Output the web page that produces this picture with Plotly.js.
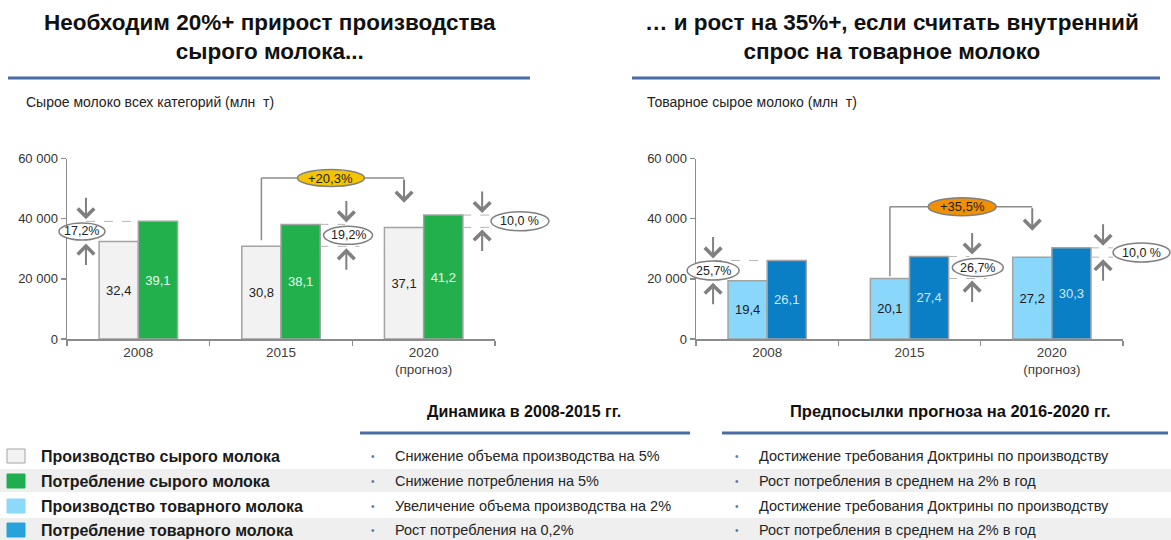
<!DOCTYPE html>
<html><head><meta charset="utf-8">
<script src="https://cdn.plot.ly/plotly-3.0.1.min.js"></script>
<style>html,body{margin:0;padding:0;background:#fff}#chart{width:1171px;height:540px}</style>
</head><body><div id="chart"></div>
<script>
// ---------- data ----------
const categories = ['2008', '2015', '2020<br>(прогноз)'];
const rawProduction = [32.4, 30.8, 37.1];
const rawConsumption = [39.1, 38.1, 41.2];
const marketProduction = [19.4, 20.1, 27.2];
const marketConsumption = [26.1, 27.4, 30.3];
const rawGapLabels = ['17,2%', '19,2%', '10,0 %'];
const marketGapLabels = ['25,7%', '26,7%', '10,0 %'];
const rawGrowthLabel = '+20,3%';
const marketGrowthLabel = '+35,5%';
const yTicks = [0, 20000, 40000, 60000];
const chartTitles = ['Необходим 20%+ прирост производства<br>сырого молока...', '… и рост на 35%+, если считать внутренний<br>спрос на товарное молоко'];
const chartSubtitles = ['Сырое молоко всех категорий (млн  т)', 'Товарное сырое молоко (млн  т)'];
const legendLabels = ['Производство сырого молока', 'Потребление сырого молока', 'Производство товарного молока', 'Потребление товарного молока'];
const dynamicsHeader = 'Динамика в 2008-2015 гг.';
const dynamicsItems = ['Снижение объема производства на 5%', 'Снижение потребления на 5%', 'Увеличение объема производства на 2%', 'Рост потребления на 0,2%'];
const forecastHeader = 'Предпосылки прогноза на 2016-2020 гг.';
const forecastItems = ['Достижение требования Доктрины по производству', 'Рост потребления в среднем на 2% в год', 'Достижение требования Доктрины по производству', 'Рост потребления в среднем на 2% в год'];

// ---------- styles ----------
const F = 'Liberation Sans, Arial, sans-serif';
const W = 1171, H = 540;
const px = x => x / W, py = y => 1 - y / H;
const AX = '#8c8c8c';
const BAR_LINE = '#a3a3a3';
const C_GRAY = '#f2f2f2', C_GREEN = '#21b04b', C_LBLUE = '#89d8fb', C_DBLUE = '#0a7fc6';
const LEGEND_COLORS = [C_GRAY, '#1fae4f', '#8cd9fa', '#27a2da'];
const RULE = '#4a6da7';

// plot areas in pixels
const LEFT = {x0: 67, x1: 495}, RIGHT = {x0: 696, x1: 1123};
const Y_TOP = 158.5, Y_BOT = 339;

function barTrace(vals, color, textColor, xa, ya, name) {
  return {
    type: 'bar', name: name, x: categories, y: vals.map(v => v * 1000), customdata: vals,
    texttemplate: '%{customdata:.1f}', textposition: 'inside', insidetextanchor: 'middle', textangle: 0,
    textfont: {family: F, size: 13, color: textColor},
    marker: {color: color, line: {color: BAR_LINE, width: 1.5}},
    xaxis: xa, yaxis: ya, showlegend: false, hoverinfo: 'skip'
  };
}

const data = [
  barTrace(rawProduction, C_GRAY, '#222', 'x', 'y', legendLabels[0]),
  barTrace(rawConsumption, C_GREEN, '#eafaf0', 'x', 'y', legendLabels[1]),
  barTrace(marketProduction, C_LBLUE, '#1a1a1a', 'x2', 'y2', legendLabels[2]),
  barTrace(marketConsumption, C_DBLUE, '#cfe9f8', 'x2', 'y2', legendLabels[3]),
  {type: 'scatter', x: [], y: [], xaxis: 'x3', yaxis: 'y3', showlegend: false, hoverinfo: 'skip'},
  {type: 'scatter', x: [], y: [], xaxis: 'x4', yaxis: 'y4', showlegend: false, hoverinfo: 'skip'}
];

const shapes = [], annotations = [];

function arrow(xa, ya, x, y, ay) {
  annotations.push({xref: xa, yref: ya, x: x, y: y, ax: 0, ay: ay, text: '', showarrow: true,
    arrowhead: 4, arrowsize: 1.6, arrowwidth: 2, arrowcolor: '#808080', standoff: 2});
}
function ellipse(xa, ya, x, y, w, h, fill, label, size) {
  shapes.push({type: 'circle', xref: xa, yref: ya, xsizemode: 'pixel', ysizemode: 'pixel',
    xanchor: x, yanchor: y, x0: -w / 2, x1: w / 2, y0: -h / 2, y1: h / 2,
    fillcolor: fill, line: {color: '#808080', width: 1.5}});
  annotations.push({xref: xa, yref: ya, x: x, y: y, text: label, showarrow: false,
    font: {family: F, size: size, color: '#222'}});
}
function dash(xa, ya, x0, x1, y) {
  shapes.push({type: 'line', xref: xa, yref: ya, x0: x0, x1: x1, y0: y, y1: y,
    line: {color: '#b5b5b5', width: 1, dash: 'dash'}});
}

function gapMarks(xa, ya, prod, cons, labels, cfg) {
  prod.forEach((p, i) => {
    const pv = p * 1000, cv = cons[i] * 1000;
    cfg.dashes[i].forEach(d => dash(xa, ya, d[1], d[2], d[0] === 'c' ? cv : pv));
    arrow(xa, ya, cfg.arrowX[i], cv, -25);
    arrow(xa, ya, cfg.arrowX[i], pv, 25);
    ellipse(xa, ya, cfg.ellX[i], (pv + cv) / 2, cfg.ellW[i], cfg.ellH[i], '#ffffff', labels[i], 12.5);
  });
}

// overlay axes x3/y3 and x4/y4 share the category scale (index units) but span a wider area, so marks are not clipped
gapMarks('x3', 'y3', rawProduction, rawConsumption, rawGapLabels, {
  arrowX: [-0.367, 1.458, 2.41], ellX: [-0.395, 1.47, 2.675], ellW: [46, 49, 58], ellH: [17, 18, 19],
  dashes: [[['c', -0.367, 0]], [['c', 1.27, 1.45], ['p', 1.27, 1.55]], [['c', 2.27, 2.47], ['p', 2.27, 2.47]]]
});
gapMarks('x4', 'y4', marketProduction, marketConsumption, marketGapLabels, {
  arrowX: [-0.38, 1.44, 2.36], ellX: [-0.38, 1.48, 2.63], ellW: [52, 51, 57], ellH: [19, 18, 19],
  dashes: [[['c', -0.38, 0]], [['c', 1.27, 1.42], ['p', 1.27, 1.54]], [['c', 2.27, 2.43], ['p', 2.27, 2.43]]]
});

function growth(xa, ya, startY, level, headY, ellX, label, fill, w, h) {
  const xs = 0.8625, xe = 1.8625;
  shapes.push({type: 'line', xref: xa, yref: ya, x0: xs, x1: xs, y0: startY, y1: level, line: {color: '#8c8c8c', width: 1.5}});
  shapes.push({type: 'line', xref: xa, yref: ya, x0: xs, x1: xe, y0: level, y1: level, line: {color: '#8c8c8c', width: 1.5}});
  annotations.push({xref: xa, yref: ya, x: xe, y: headY, axref: 'pixel', ax: 0, ayref: ya, ay: level, text: '',
    showarrow: true, arrowhead: 4, arrowsize: 1.6, arrowwidth: 2, arrowcolor: '#808080', standoff: 0});
  ellipse(xa, ya, ellX, level, w, h, fill, label, 13);
}
growth('x3', 'y3', rawProduction[1] * 1000 + 2000, 53500, 45300, 1.35, rawGrowthLabel, '#f5c400', 67, 17);
growth('x4', 'y4', marketProduction[1] * 1000 + 800, 44000, 36000, 1.37, marketGrowthLabel, '#f39000', 68, 18);

// ---------- header ----------
[[270, 8, 530], [892, 632, 1160]].forEach((h, i) => {
  annotations.push({xref: 'paper', yref: 'paper', x: px(h[0]), y: py(37), xanchor: 'center', yanchor: 'middle',
    text: '<b>' + chartTitles[i] + '</b>', showarrow: false, font: {family: F, size: 22.5, color: '#111'}});
  shapes.push({type: 'line', xref: 'paper', yref: 'paper', x0: px(h[1]), x1: px(h[2]), y0: py(78), y1: py(78),
    line: {color: RULE, width: 3}});
});
[24, 645].forEach((x, i) => annotations.push({xref: 'paper', yref: 'paper', x: px(x), y: py(102), xanchor: 'left', yanchor: 'middle',
  text: chartSubtitles[i], showarrow: false, font: {family: F, size: 14, color: '#222'}}));

// ---------- bottom table ----------
const rowY = [456, 481, 506, 530];
[[469, 492], [518, 541]].forEach(b => shapes.push({type: 'rect', xref: 'paper', yref: 'paper', x0: 0, x1: 1,
  y0: py(b[1]), y1: py(b[0]), fillcolor: '#efefef', line: {width: 0}, layer: 'below'}));
[[524, 360, 690, dynamicsHeader, 16], [950, 722, 1168, forecastHeader, 16.5]].forEach(h => {
  annotations.push({xref: 'paper', yref: 'paper', x: px(h[0]), y: py(411), xanchor: 'center', yanchor: 'middle',
    text: '<b>' + h[3] + '</b>', showarrow: false, font: {family: F, size: h[4], color: '#111'}});
  shapes.push({type: 'line', xref: 'paper', yref: 'paper', x0: px(h[1]), x1: px(h[2]), y0: py(433), y1: py(433),
    line: {color: RULE, width: 3}});
});
legendLabels.forEach((lab, i) => {
  const y = rowY[i];
  shapes.push({type: 'rect', xref: 'paper', yref: 'paper', x0: px(7), x1: px(25), y0: py(y + 7), y1: py(y - 7),
    fillcolor: LEGEND_COLORS[i], line: {color: i === 0 ? '#a6a6a6' : LEGEND_COLORS[i], width: 1}});
  annotations.push({xref: 'paper', yref: 'paper', x: px(39), y: py(y), xanchor: 'left', yanchor: 'middle',
    text: '<b>' + lab + '</b>', showarrow: false, font: {family: F, size: 16, color: '#1a1a1a'}});
  [[373, 393, dynamicsItems[i]], [737, 757, forecastItems[i]]].forEach(c => {
    annotations.push({xref: 'paper', yref: 'paper', x: px(c[0]), y: py(y), xanchor: 'center', yanchor: 'middle',
      text: '•', showarrow: false, font: {family: F, size: 10, color: '#5a78aa'}});
    annotations.push({xref: 'paper', yref: 'paper', x: px(c[1]), y: py(y), xanchor: 'left', yanchor: 'middle',
      text: c[2], showarrow: false, font: {family: F, size: 14.5, color: '#262626'}});
  });
});

// ---------- axes ----------
function xAxis(area) {
  return {domain: [px(area.x0), px(area.x1)], type: 'category', range: [-0.5, 2.5], showline: true, linecolor: AX, linewidth: 1.5,
    ticks: 'outside', tickson: 'boundaries', ticklen: 5, tickwidth: 1.5, tickcolor: AX, showgrid: false,
    tickfont: {family: F, size: 13.5, color: '#404040'}, fixedrange: true};
}
function yAxis(anchor) {
  return {domain: [py(Y_BOT), py(Y_TOP)], anchor: anchor, range: [0, 60000], tickmode: 'array', tickvals: yTicks,
    tickformat: ',.0f', showline: true, linecolor: AX, linewidth: 1.5, ticks: 'outside', ticklen: 5,
    tickwidth: 1.5, tickcolor: AX, showgrid: false, zeroline: false,
    tickfont: {family: F, size: 13, color: '#333'}, fixedrange: true};
}
// hidden overlay axis spanning [p0,p1] pixels with the same index scale as the category axis of `area`
function overlayX(area, p0, p1, anchor) {
  const unit = (area.x1 - area.x0) / 3;
  return {domain: [px(p0), px(p1)], anchor: anchor, visible: false, fixedrange: true,
    range: [-0.5 - (area.x0 - p0) / unit, -0.5 + (p1 - area.x0) / unit]};
}
function overlayY(anchor) {
  return {domain: [py(Y_BOT), py(Y_TOP)], anchor: anchor, range: [0, 60000], visible: false, fixedrange: true};
}

const layout = {
  width: W, height: H, margin: {l: 0, r: 0, t: 0, b: 0}, paper_bgcolor: '#ffffff', plot_bgcolor: 'rgba(0,0,0,0)',
  separators: ', ', barmode: 'group', bargap: 0.45, bargroupgap: 0, showlegend: false,
  font: {family: F, color: '#333'},
  xaxis: Object.assign(xAxis(LEFT), {anchor: 'y'}),
  yaxis: yAxis('x'),
  xaxis2: Object.assign(xAxis(RIGHT), {anchor: 'y2'}),
  yaxis2: yAxis('x2'),
  xaxis3: overlayX(LEFT, 0, 590, 'y3'),
  yaxis3: overlayY('x3'),
  xaxis4: overlayX(RIGHT, 590, 1171, 'y4'),
  yaxis4: overlayY('x4'),
  shapes: shapes, annotations: annotations
};

Plotly.newPlot('chart', data, layout, {displayModeBar: false, staticPlot: true});
</script></body></html>
